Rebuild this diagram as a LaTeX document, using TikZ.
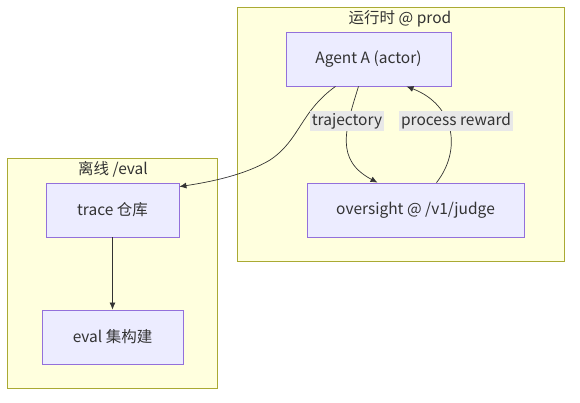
\documentclass[tikz,border=0pt]{standalone}
\usepackage{fontspec}
\setmainfont{Noto Sans CJK SC}
\usetikzlibrary{arrows.meta}
\definecolor{cfill}{HTML}{FFFFDE}
\definecolor{cline}{HTML}{AAAA33}
\definecolor{nfill}{HTML}{ECECFF}
\definecolor{nline}{HTML}{9370DB}
\definecolor{ink}{HTML}{333333}
\definecolor{lbg}{HTML}{E8E8E8}
\begin{document}
\begin{tikzpicture}[x=1pt,y=-1pt,font=\fontsize{15.5}{18}\selectfont,
  c/.style={draw=cline,fill=cfill,line width=.8pt},
  n/.style={draw=nline,fill=nfill,line width=.8pt,minimum height=54pt,text=ink},
  l/.style={fill=lbg,text=ink,inner sep=2pt},
  e/.style={draw=ink,line width=.7pt,-{Latex[length=7pt,width=6pt]}}]
  \useasboundingbox (0,0) rectangle (580,402);
  \draw[c] (237,7) rectangle (564,261);
  \draw[c] (7,158) rectangle (217,388);
  \node[text=ink] (prod) at (400,19) {运行时 @ prod};
  \node[text=ink] (offl) at (113,169) {离线 /eval};
  \node[n,minimum width=165pt] (agent) at (368.5,59) {Agent A (actor)};
  \node[n,minimum width=217pt] (judge) at (415.5,210) {oversight @ /v1/judge};
  \node[n,minimum width=133pt] (trace) at (112.5,210) {trace 仓库};
  \node[n,minimum width=141pt] (evalset) at (112.5,337) {eval 集构建};
  \draw[e] ([xshift=-33pt]agent.south) .. controls (300,112) and (300,140) .. (270,160) .. controls (245,175) and (210,182) .. ([yshift=-4pt]trace.north east);
  \draw[e] ([xshift=-10pt]agent.south) .. controls (345,130) and (335,160) .. ([xshift=-38pt]judge.north);
  \draw[e] ([xshift=21pt]judge.north) .. controls (462,150) and (455,105) .. ([xshift=38pt]agent.south);
  \draw[e] (trace) -- (evalset);
  \node[l] (traj) at (347,121) {trajectory};
  \node[l] (rew) at (456,121) {process reward};
\end{tikzpicture}
\end{document}
